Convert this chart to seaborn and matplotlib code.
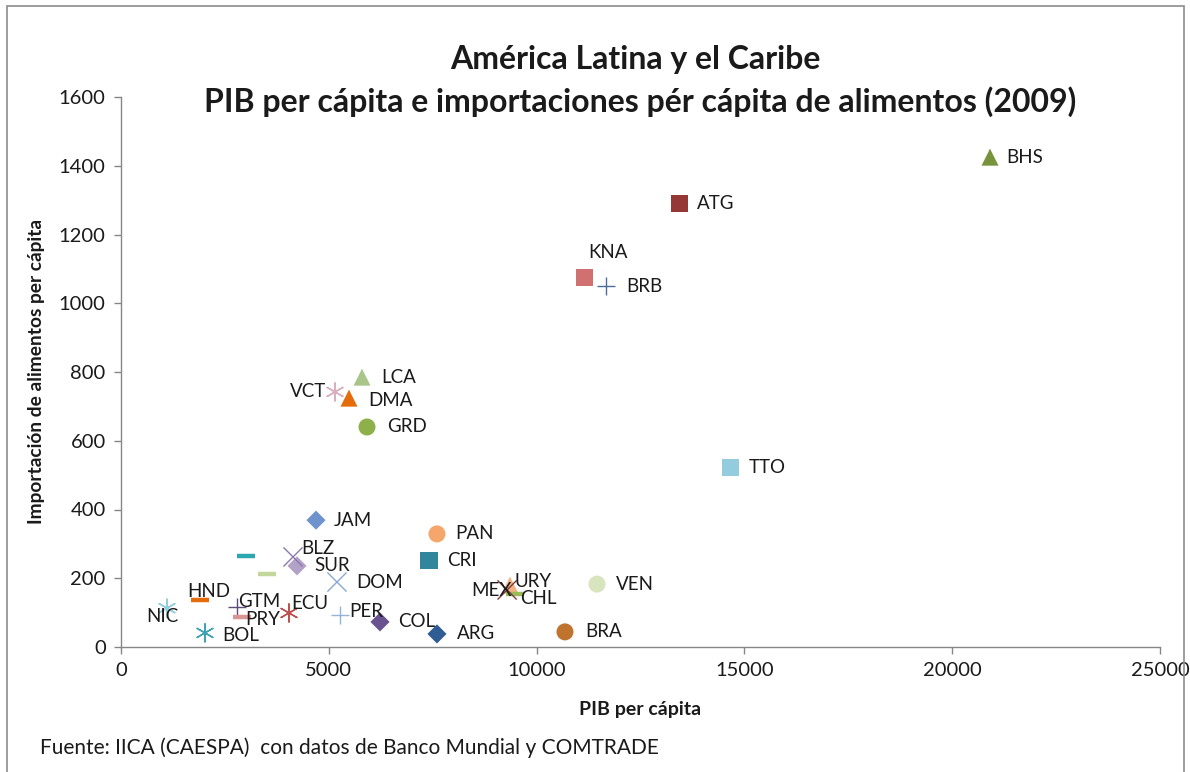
import matplotlib
matplotlib.use("Agg")
import matplotlib.pyplot as plt
import seaborn as sns
import pandas as pd
from matplotlib.patches import Rectangle

# ---- data ----
codes = ["BHS", "ATG", "KNA", "BRB", "LCA", "VCT", "DMA", "GRD", "TTO", "JAM",
         "PAN", "CRI", "BLZ", "SUR", "DOM", "VEN", "MEX", "URY", "CHL", "HND",
         "NIC", "BOL", "GTM", "PRY", "ECU", "PER", "COL", "ARG", "BRA", "GUY", "SLV"]
labels = ["BHS", "ATG", "KNA", "BRB", "LCA", "VCT", "DMA", "GRD", "TTO", "JAM",
          "PAN", "CRI", "BLZ", "SUR", "DOM", "VEN", "MEX", "URY", "CHL", "HND",
          "NIC", "BOL", "GTM", "PRY", "ECU", "PER", "COL", "ARG", "BRA", "", ""]
pib = [20910, 13427, 11141, 11670, 5799, 5149, 5486, 5919, 14677, 4692,
       7603, 7411, 4139, 4235, 5197, 11453, 9290, 9360, 9480, 1900,
       1107, 2021, 2790, 2911, 4042, 5270, 6232, 7603, 10683, 3008, 3513]
imp = [1425, 1289, 1076, 1050, 785, 742, 724, 640, 521, 369,
       329, 253, 262, 236, 189, 183, 166, 180, 154, 137,
       113, 41, 116, 87, 99, 93, 73, 38, 44, 265, 212]

# ---- styles ----
marker_of = {"BHS": "^", "ATG": "s", "KNA": "s", "BRB": "+", "LCA": "^", "VCT": "ast",
             "DMA": "^", "GRD": "o", "TTO": "s", "JAM": "D", "PAN": "o", "CRI": "s",
             "BLZ": "x", "SUR": "D", "DOM": "x", "VEN": "o", "MEX": "x", "URY": "^",
             "CHL": "_", "HND": "_", "NIC": "ast", "BOL": "ast", "GTM": "+", "PRY": "_",
             "ECU": "ast", "PER": "+", "COL": "D", "ARG": "D", "BRA": "o",
             "GUY": "_", "SLV": "_"}
color_of = {"BHS": "#77933C", "ATG": "#953735", "KNA": "#D07070", "BRB": "#4F6D9A",
            "LCA": "#A9C58A", "VCT": "#D9AEC0", "DMA": "#E46C0A", "GRD": "#8DB04A",
            "TTO": "#93CDDD", "JAM": "#6F94CD", "PAN": "#F5A66A", "CRI": "#31859C",
            "BLZ": "#8C78B0", "SUR": "#B3A2C7", "DOM": "#8AA8D4", "VEN": "#D7E4BD",
            "MEX": "#7A3A40", "URY": "#F4B183", "CHL": "#9BBB59", "HND": "#E46C0A",
            "NIC": "#93CDDD", "BOL": "#3FA2B4", "GTM": "#604A7B", "PRY": "#D99694",
            "ECU": "#C0504D", "PER": "#95B3D7", "COL": "#6A5290", "ARG": "#2F5C92",
            "BRA": "#C0722F", "GUY": "#2CA6B0", "SLV": "#C3D69B"}
# label offsets in pixels (dx, dy, ha)
off_of = {"BHS": (16, 0, "left"), "ATG": (18, 0, "left"), "KNA": (24, 25, "center"),
          "BRB": (20, 0, "left"), "LCA": (19, 0, "left"), "VCT": (-9, 0, "right"),
          "DMA": (19, -2, "left"), "GRD": (20, 0, "left"), "TTO": (18, 0, "left"),
          "JAM": (18, 0, "left"), "PAN": (18, 0, "left"), "CRI": (18, 0, "left"),
          "BLZ": (8, 8, "left"), "SUR": (17, 0, "left"), "DOM": (19, 0, "left"),
          "VEN": (19, 0, "left"), "MEX": (5, -1, "right"), "URY": (4, 4, "left"),
          "CHL": (5, -4, "left"), "HND": (-13, 8, "left"), "NIC": (-5, -8, "center"),
          "BOL": (17, -3, "left"), "GTM": (1, 6, "left"), "PRY": (3, -2, "left"),
          "ECU": (2, 9, "left"), "PER": (9, 4, "left"), "COL": (18, 0, "left"),
          "ARG": (20, 0, "left"), "BRA": (20, 0, "left"), "GUY": (0, 0, "left"),
          "SLV": (0, 0, "left")}

df = pd.DataFrame({"code": codes, "label": labels, "pib": pib, "imp": imp})
df["mk"] = df["code"].map(marker_of)

sns.set_theme(style="white")
plt.rcParams["font.family"] = ["Lato", "DejaVu Sans"]

fig = plt.figure(figsize=(11.9, 7.72), dpi=100)
ax = fig.add_axes([121 / 1190, 1 - 647 / 772, (1160 - 121) / 1190, (647 - 97) / 772])

asterisk = (6, 2, 0)
mk_map = {"^": "^", "s": "s", "o": "o", "D": "D", "+": "+", "x": "x", "_": "_", "ast": asterisk}
size_map = {"^": 150, "s": 150, "o": 150, "D": 95, "+": 170, "x": 190, "_": 170, "ast": 170}
lw_map = {"^": 0, "s": 0, "o": 0, "D": 0, "+": 1.0, "x": 1.0, "_": 3.2, "ast": 1.0}

for mk, sub in df.groupby("mk"):
    filled = mk in ("^", "s", "o", "D")
    kw = dict(data=sub, x="pib", y="imp", hue="code",
              palette={c: color_of[c] for c in sub["code"]},
              marker=mk_map[mk], s=size_map[mk], legend=False, ax=ax, zorder=3)
    if filled:
        kw["edgecolor"] = "none"
    else:
        kw["linewidth"] = lw_map[mk]
    sns.scatterplot(**kw)

for _, r in df.iterrows():
    if not r["label"]:
        continue
    dx, dy, ha = off_of[r["code"]]
    ax.annotate(r["label"], (r["pib"], r["imp"]), xytext=(dx, dy),
                textcoords="offset pixels", ha=ha, va="center",
                fontsize=13.5, color="#1a1a1a", zorder=4)

ax.set_xlim(0, 25000)
ax.set_ylim(0, 1600)
ax.set_xticks(range(0, 25001, 5000))
ax.set_yticks(range(0, 1601, 200))
ax.tick_params(axis="both", labelsize=14.5, colors="#1a1a1a", length=5, width=1,
               direction="out", left=True, bottom=True, pad=6)
ax.tick_params(axis="both", color="#868686")
for s in ("top", "right"):
    ax.spines[s].set_visible(False)
for s in ("left", "bottom"):
    ax.spines[s].set_color("#868686")
    ax.spines[s].set_linewidth(1)

ax.set_xlabel("PIB per cápita", fontsize=14, fontweight="bold", color="#1a1a1a", labelpad=16)
ax.set_ylabel("Importación de alimentos per cápita", fontsize=13.8, fontweight="bold",
              color="#1a1a1a", labelpad=10)
fig.text(635 / 1190, 1 - 60 / 772, "América Latina y el Caribe", ha="center", va="center",
         fontsize=23, fontweight="bold", color="#1a1a1a")
fig.text(640 / 1190, 1 - 102 / 772,
         "PIB per cápita e importaciones pér cápita de alimentos (2009)",
         ha="center", va="center", fontsize=23, fontweight="bold", color="#1a1a1a")
fig.text(40 / 1190, 1 - 748 / 772,
         "Fuente: IICA (CAESPA)  con datos de Banco Mundial y COMTRADE",
         ha="left", va="center", fontsize=15, color="#1a1a1a")

fig.patches.append(Rectangle((7 / 1190, -0.05), (1184 - 7) / 1190, 1.05 - 6 / 772,
                             transform=fig.transFigure, fill=False,
                             edgecolor="#8c8c8c", linewidth=1.2))

fig.savefig("out.png", dpi=100)
